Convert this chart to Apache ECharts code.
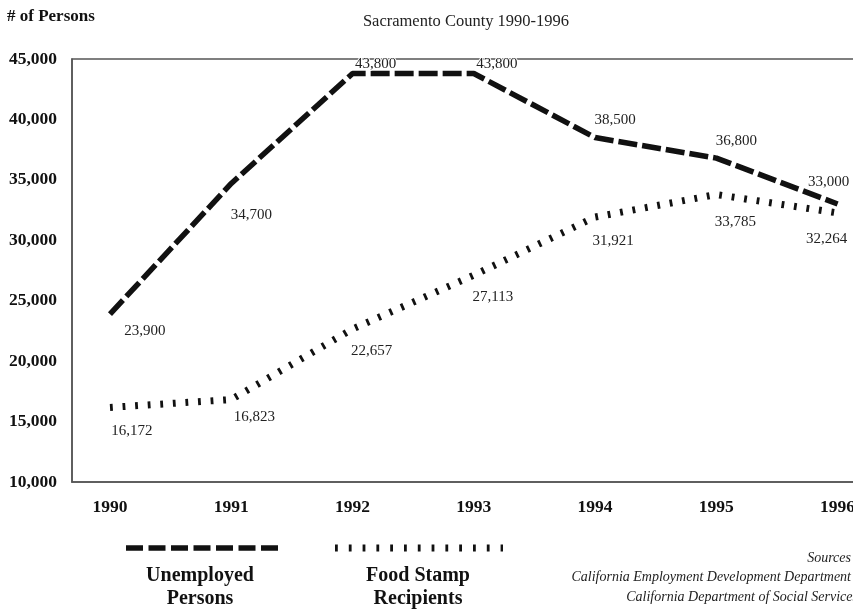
<!DOCTYPE html>
<html>
<head>
<meta charset="utf-8">
<script src="https://cdn.jsdelivr.net/npm/echarts@6/dist/echarts.min.js"></script>
<style>
html,body{margin:0;padding:0;background:#fff;}
#chart{width:853px;height:609px;}
</style>
</head>
<body>
<div id="chart"></div>
<script>
// ---- data ----
var years = [1990, 1991, 1992, 1993, 1994, 1995, 1996];
var unemployedPersons = [23900, 34700, 43800, 43800, 38500, 36800, 33000];
var foodStampRecipients = [16172, 16823, 22657, 27113, 31921, 33785, 32264];
var yTicks = [10000, 15000, 20000, 25000, 30000, 35000, 40000, 45000];
var seriesNames = ['Unemployed\nPersons', 'Food Stamp\nRecipients'];

// ---- label placement (style) ----
var uLabelOffsets = [[35, 17], [20, 32], [23, -9], [23, -9], [20, -17], [20, -17], [-9, -22]];
var fLabelOffsets = [[22, 24], [23, 18], [19, 22], [19, 22], [18, 24], [19, 28], [-11, 26]];

var SERIF = '"Liberation Serif", "Times New Roman", serif';

function fmt(v) { return v.toLocaleString('en-US'); }

function buildData(vals, offsets) {
  return years.map(function (y, i) {
    return { value: [y, vals[i]], label: { offset: offsets[i] } };
  });
}

var chart = echarts.init(document.getElementById('chart'));

var labelCommon = {
  show: true,
  position: 'inside',
  fontFamily: SERIF,
  fontSize: 15,
  color: '#222',
  textBorderColor: '#fff',
  textBorderWidth: 2,
  formatter: function (p) { return fmt(p.value[1]); }
};

var option = {
  backgroundColor: '#fff',
  animation: false,
  grid: {
    left: 72, right: -21, top: 59, bottom: 127,
    show: true, borderColor: '#555', borderWidth: 1.5,
    containLabel: false, outerBoundsMode: 'none'
  },
  xAxis: {
    type: 'value',
    min: 1990 - 38 / 121.3,
    max: 1996.3,
    axisLine: { show: true, lineStyle: { color: '#555', width: 1.5 } },
    axisTick: { show: false },
    splitLine: { show: false },
    axisLabel: {
      customValues: years,
      margin: 16,
      fontFamily: SERIF, fontSize: 17.5, fontWeight: 'bold', color: '#111',
      formatter: function (v) { return String(v); }
    }
  },
  yAxis: {
    type: 'value',
    min: 10000, max: 45000, interval: 5000,
    axisLine: { show: true, lineStyle: { color: '#555', width: 1.5 } },
    axisTick: { show: false },
    splitLine: { show: false },
    axisLabel: {
      customValues: yTicks,
      margin: 15,
      fontFamily: SERIF, fontSize: 17.5, fontWeight: 'bold', color: '#111',
      formatter: function (v) { return fmt(v); }
    }
  },
  series: [
    {
      name: seriesNames[0],
      type: 'line',
      data: buildData(unemployedPersons, uLabelOffsets),
      symbol: 'circle', symbolSize: 1,
      itemStyle: { color: 'transparent' },
      lineStyle: { color: '#111', width: 5.5, type: [19, 5], cap: 'butt' },
      label: labelCommon,
      z: 3
    },
    {
      name: seriesNames[1],
      type: 'line',
      data: buildData(foodStampRecipients, fLabelOffsets),
      symbol: 'circle', symbolSize: 1,
      itemStyle: { color: 'transparent' },
      lineStyle: { color: '#111', width: 7, type: [2.8, 9.8], cap: 'butt' },
      label: labelCommon,
      z: 2
    }
  ],
  graphic: [
    { type: 'text', left: 7, top: 8,
      style: { text: '# of Persons', font: 'bold 17px ' + SERIF, fill: '#111' } },
    { type: 'text', x: 466, y: 22,
      style: { text: 'Sacramento County 1990-1996', font: '16.5px ' + SERIF, fill: '#222',
               textAlign: 'center', textVerticalAlign: 'middle' } },
    // legend
    { type: 'line', shape: { x1: 126, y1: 548, x2: 278, y2: 548 },
      style: { stroke: '#111', lineWidth: 5.5, lineDash: [17, 5.5] } },
    { type: 'text', x: 200, y: 587,
      style: { text: seriesNames[0], font: 'bold 20px ' + SERIF, fill: '#111',
               textAlign: 'center', textVerticalAlign: 'middle', lineHeight: 23 } },
    { type: 'line', shape: { x1: 335, y1: 548, x2: 503, y2: 548 },
      style: { stroke: '#111', lineWidth: 7, lineDash: [2.8, 11] } },
    { type: 'text', x: 418, y: 587,
      style: { text: seriesNames[1], font: 'bold 20px ' + SERIF, fill: '#111',
               textAlign: 'center', textVerticalAlign: 'middle', lineHeight: 23 } },
    // sources
    { type: 'text', x: 851, y: 568,
      style: { text: 'Sources\nCalifornia Employment Development Department',
               font: 'italic 14px ' + SERIF, fill: '#222', textAlign: 'right',
               textVerticalAlign: 'middle', lineHeight: 19.5 } },
    { type: 'text', x: 858, y: 597,
      style: { text: 'California Department of Social Services',
               font: 'italic 14px ' + SERIF, fill: '#222', textAlign: 'right',
               textVerticalAlign: 'middle' } }
  ]
};

chart.setOption(option);
</script>
</body>
</html>
